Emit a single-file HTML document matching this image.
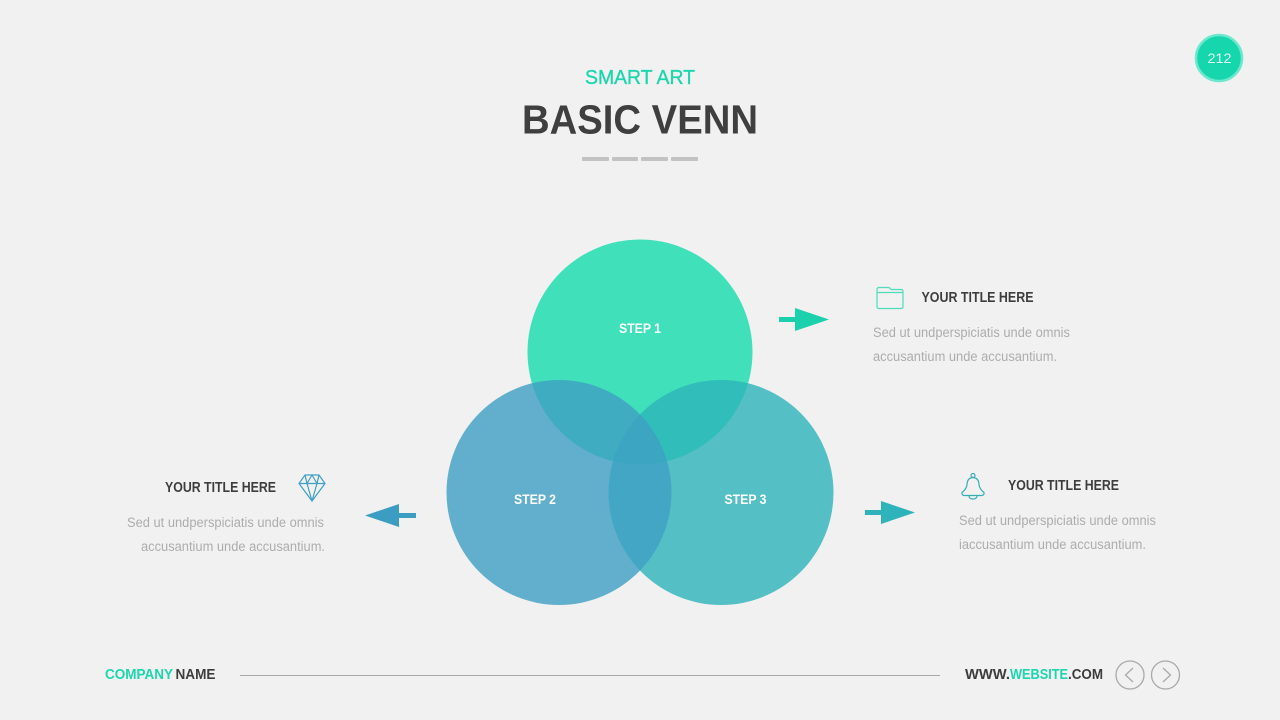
<!DOCTYPE html>
<html><head><meta charset="utf-8">
<style>
html,body{margin:0;padding:0;background:#f1f1f1;width:1280px;height:720px;overflow:hidden}
svg{display:block}
text{font-family:"Liberation Sans",sans-serif}
.t{font-size:14.500px;font-weight:700;fill:#3d3d3d}
.b{font-size:13.500px;fill:#adadad}
.s{font-size:13.500px;font-weight:700;fill:#fff}
.f{font-size:14.500px;font-weight:700;fill:#3d3d3d}
</style></head><body>
<svg width="1280" height="720" viewBox="0 0 1280 720" xmlns="http://www.w3.org/2000/svg">
<rect width="1280" height="720" fill="#f1f1f1"/>

<circle cx="1219" cy="58" r="23" fill="#15d6ac" stroke="#6be8cd" stroke-width="2.500"/>
<text x="1207.500" y="63" font-size="13.500" fill="#dffff6" textLength="24" lengthAdjust="spacingAndGlyphs">212</text>

<text x="585" y="84" font-size="20" fill="#1cd6ae" stroke="#1cd6ae" stroke-width=".35" textLength="110" lengthAdjust="spacingAndGlyphs">SMART ART</text>
<text x="522" y="133.500" font-size="41" font-weight="700" fill="#3f3f3f" textLength="236" lengthAdjust="spacingAndGlyphs">BASIC VENN</text>
<g fill="#c2c2c2">
<rect x="582" y="157" width="27" height="4" rx="1"/>
<rect x="612" y="157" width="26" height="4" rx="1"/>
<rect x="641" y="157" width="27" height="4" rx="1"/>
<rect x="671" y="157" width="27" height="4" rx="1"/>
</g>

<circle cx="640" cy="352" r="112.500" fill="#14dcae" fill-opacity=".8"/>
<circle cx="721" cy="492.500" r="112.500" fill="#2db4ba" fill-opacity=".8"/>
<circle cx="559" cy="492.500" r="112.500" fill="#3e9fc4" fill-opacity=".8"/>
<text x="619" y="333" class="s" textLength="42" lengthAdjust="spacingAndGlyphs">STEP 1</text>
<text x="514" y="504" class="s" textLength="42" lengthAdjust="spacingAndGlyphs">STEP 2</text>
<text x="724.500" y="504" class="s" textLength="42" lengthAdjust="spacingAndGlyphs">STEP 3</text>

<polygon points="779,317 795,317 795,308 829,319.500 795,331 795,322 779,322" fill="#1bd0ac"/>
<polygon points="416,513 399,513 399,504 365,515.500 399,527 399,518 416,518" fill="#3c9dc2"/>
<polygon points="865,510 881,510 881,501 915,512.500 881,524 881,515 865,515" fill="#2fb3bb"/>

<g fill="none" stroke="#4fdcbc" stroke-width="1.200" stroke-linejoin="round">
<path d="M877,306.500 V289.500 Q877,287.500 879,287.500 H888 Q890,287.500 891,289.500 H901 Q903,289.500 903,291.500 V306.500 Q903,308.500 901,308.500 H879 Q877,308.500 877,306.500 Z"/>
<path d="M877,292.500 H903"/>
</g>
<text x="921.500" y="302" class="t" textLength="112" lengthAdjust="spacingAndGlyphs">YOUR TITLE HERE</text>
<text x="873" y="337" class="b" textLength="197" lengthAdjust="spacingAndGlyphs">Sed ut undperspiciatis unde omnis</text>
<text x="873" y="361" class="b" textLength="184" lengthAdjust="spacingAndGlyphs">accusantium unde accusantium.</text>

<g fill="none" stroke="#3f9fc4" stroke-width="1.200" stroke-linejoin="round">
<path d="M305,475 H319 L325,483.500 L312,501 L299,483.500 Z"/>
<path d="M299,483.500 H325 M307,483.500 L312,501 L317,483.500 M305,475 L307,483.500 L312,475 L317,483.500 L319,475"/>
</g>
<text x="165" y="492" class="t" textLength="111" lengthAdjust="spacingAndGlyphs">YOUR TITLE HERE</text>
<text x="127" y="527" class="b" textLength="197" lengthAdjust="spacingAndGlyphs">Sed ut undperspiciatis unde omnis</text>
<text x="141" y="551" class="b" textLength="184" lengthAdjust="spacingAndGlyphs">accusantium unde accusantium.</text>

<g fill="none" stroke="#35adb5" stroke-width="1.200" stroke-linejoin="round">
<circle cx="973" cy="475.500" r="2"/>
<path d="M967,485 Q967,478 973,477.500 Q979,478 979,485 Q980,489.500 984,492.500 Q984.500,495 982,495.500 H964 Q961.500,495 962,492.500 Q966,489.500 967,485 Z"/>
<path d="M969,495.500 Q969,499 973,499 Q977,499 977,495.500"/>
</g>
<text x="1008" y="490" class="t" textLength="111" lengthAdjust="spacingAndGlyphs">YOUR TITLE HERE</text>
<text x="959" y="525" class="b" textLength="197" lengthAdjust="spacingAndGlyphs">Sed ut undperspiciatis unde omnis</text>
<text x="959" y="549" class="b" textLength="187" lengthAdjust="spacingAndGlyphs">iaccusantium unde accusantium.</text>

<text x="105" y="679" class="f" style="fill:#1cd6ae" textLength="68" lengthAdjust="spacingAndGlyphs">COMPANY</text>
<text x="175.500" y="679" class="f" textLength="40" lengthAdjust="spacingAndGlyphs">NAME</text>
<rect x="240" y="675" width="700" height="1" fill="#a8a8a8"/>
<text x="965" y="679" class="f" textLength="45" lengthAdjust="spacingAndGlyphs">WWW.</text>
<text x="1010" y="679" class="f" style="fill:#1cd6ae" textLength="58" lengthAdjust="spacingAndGlyphs">WEBSITE</text>
<text x="1068" y="679" class="f" textLength="35" lengthAdjust="spacingAndGlyphs">.COM</text>
<g fill="none" stroke="#a9a9a9" stroke-width="1.300">
<circle cx="1130" cy="675" r="14"/>
<circle cx="1165.500" cy="675" r="14"/>
<path d="M1133,668 L1125.500,675 L1133,682"/>
<path d="M1163,668 L1170.500,675 L1163,682"/>
</g>
</svg>
</body></html>
